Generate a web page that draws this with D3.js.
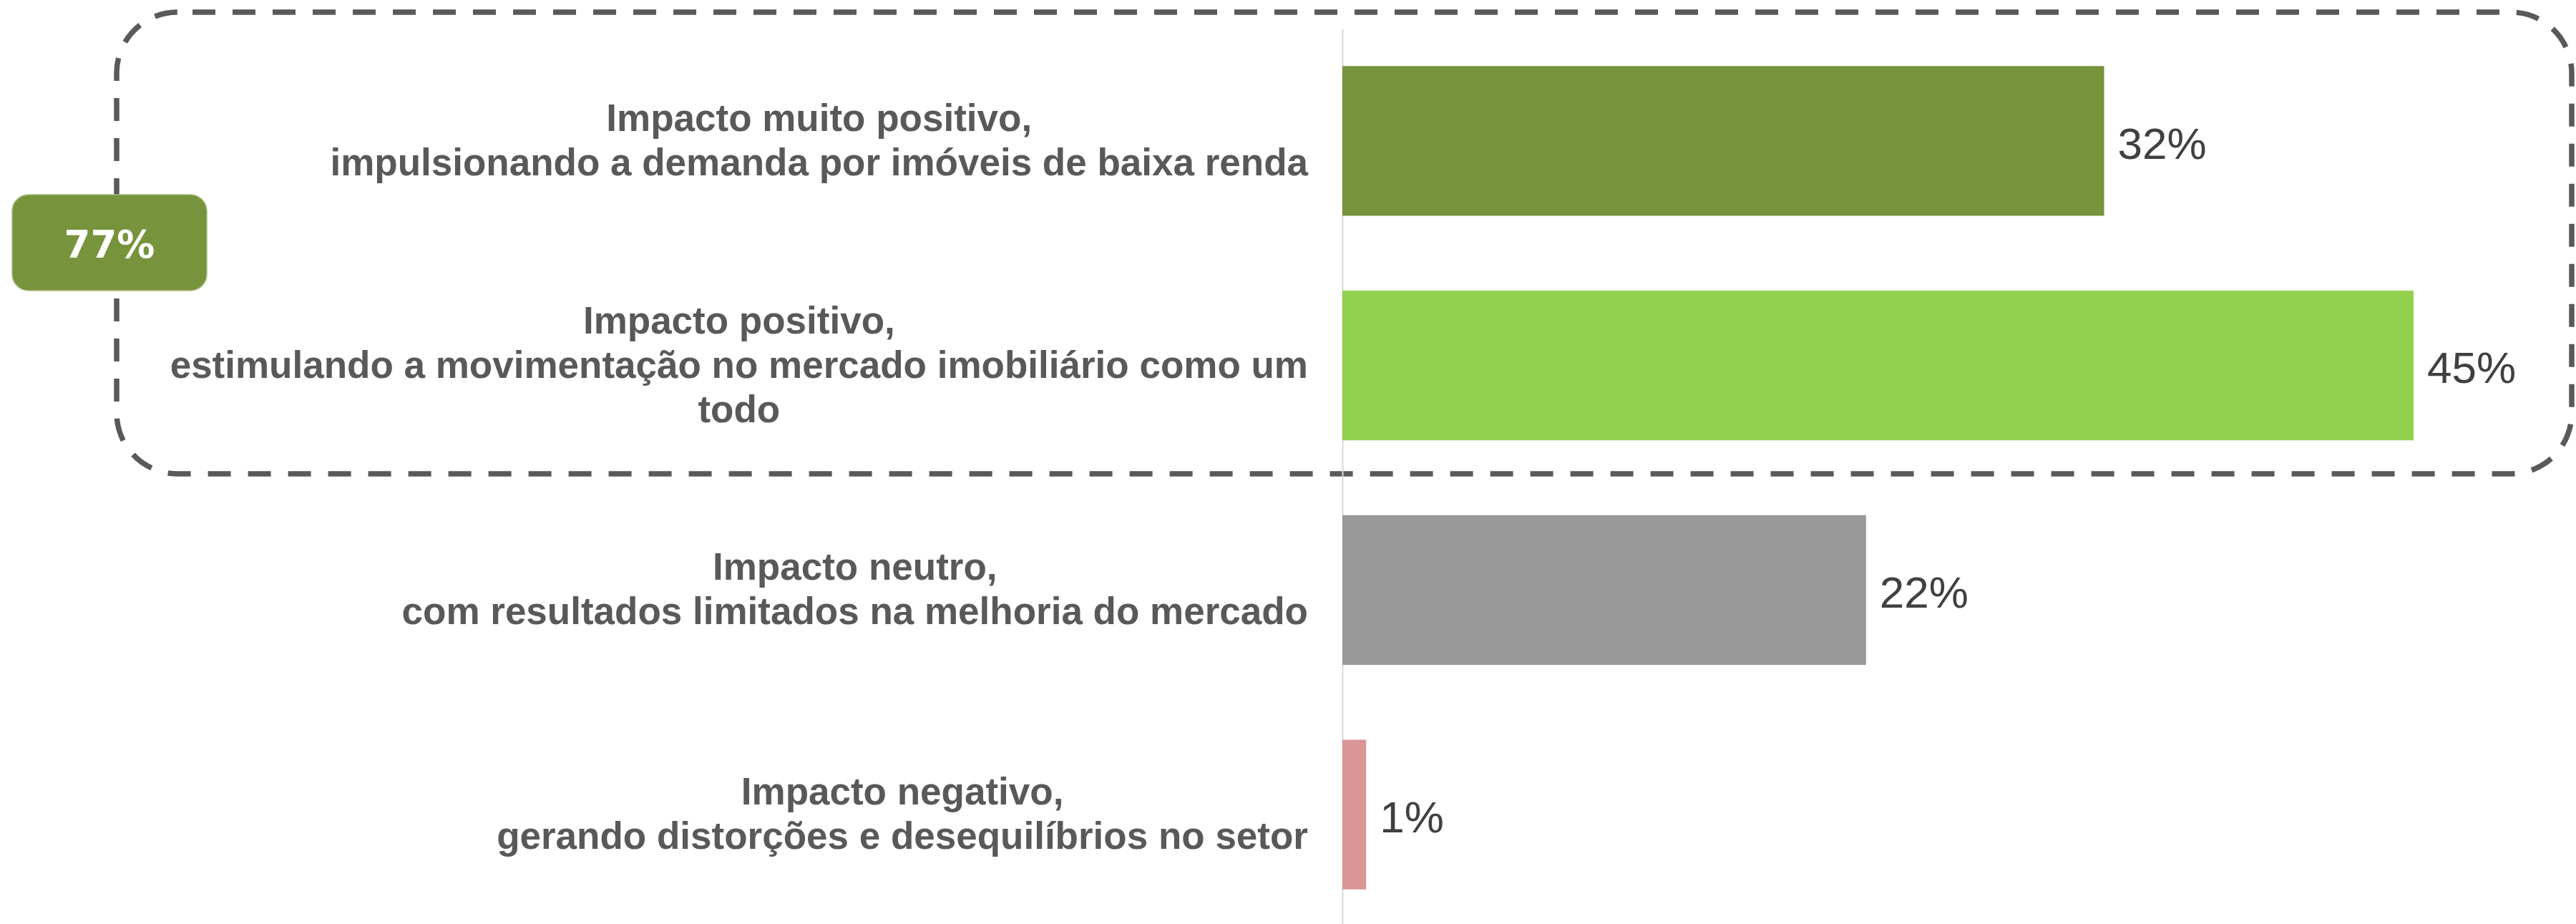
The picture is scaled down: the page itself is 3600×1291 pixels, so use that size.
<!DOCTYPE html>
<html>
<head>
<meta charset="utf-8">
<script src="https://cdn.jsdelivr.net/npm/d3@7"></script>
<style>
  html, body { margin: 0; padding: 0; background: #ffffff; }
  svg { display: block; }
</style>
</head>
<body>
<svg id="chart" width="3600" height="1291"></svg>
<script>
// ---- Data ----
const categories = ["muito_positivo", "positivo", "neutro", "negativo"];
const labelLines = [
  ["Impacto muito positivo,", "impulsionando a demanda por imóveis de baixa renda"],
  ["Impacto positivo,", "estimulando a movimentação no mercado imobiliário como um", "todo"],
  ["Impacto neutro,", "com resultados limitados na melhoria do mercado"],
  ["Impacto negativo,", "gerando distorções e desequilíbrios no setor"]
];
const values = [32, 45, 22, 1];
const barColors = ["#77933C", "#92D050", "#999999", "#D99694"];
const groupLabel = "77%";

// ---- Layout ----
const W = 3600, H = 1291;
const svg = d3.select("#chart");

const x = d3.scaleLinear().domain([0, 45]).range([1876, 3373]);
const y = d3.scaleBand().domain(categories).range([40, 1295])
  .paddingInner(1/3).paddingOuter(1/6);

// Dashed rounded group box
svg.append("rect")
  .attr("x", 163).attr("y", 17)
  .attr("width", 3594 - 163).attr("height", 662 - 17)
  .attr("rx", 85).attr("ry", 85)
  .attr("fill", "none")
  .attr("stroke", "#595959")
  .attr("stroke-width", 7.5)
  .attr("stroke-dasharray", "32 24")
  .attr("stroke-dashoffset", 35);

// Axis line (category axis, no ticks/labels)
const axisG = svg.append("g")
  .attr("transform", `translate(${x(0)},0)`)
  .call(d3.axisLeft(y).tickSize(0).tickFormat(""));
axisG.select(".domain").attr("stroke", "#d9d9d9").attr("stroke-width", 2);

// Bars
svg.append("g").selectAll("rect")
  .data(categories)
  .join("rect")
  .attr("x", x(0))
  .attr("y", d => y(d))
  .attr("width", (d, i) => x(values[i]) - x(0))
  .attr("height", y.bandwidth())
  .attr("fill", (d, i) => barColors[i]);

// Value labels
svg.append("g").selectAll("text")
  .data(categories)
  .join("text")
  .attr("x", (d, i) => x(values[i]) + 19)
  .attr("y", d => y(d) + y.bandwidth() / 2)
  .attr("dy", "0.4em")
  .attr("font-family", "'Liberation Sans', Arial, sans-serif")
  .attr("font-size", 62)
  .attr("fill", "#404040")
  .text((d, i) => values[i] + "%");

// Category labels (lines centered, block right-aligned)
const labelRight = 1828;
const lineH = 62;
const lblG = svg.append("g");
categories.forEach((c, i) => {
  const lines = labelLines[i];
  const cy = y(c) + y.bandwidth() / 2;
  const t = lblG.append("text")
    .attr("font-family", "'Liberation Sans', Arial, sans-serif")
    .attr("font-weight", "bold")
    .attr("font-size", 53)
    .attr("fill", "#595959")
    .attr("text-anchor", "middle");
  const first = cy - (lines.length - 1) / 2 * lineH + 17;
  const spans = lines.map((ln, k) =>
    t.append("tspan").attr("y", first + k * lineH).text(ln));
  const maxW = d3.max(spans, s => s.node().getComputedTextLength());
  spans.forEach(s => s.attr("x", labelRight - maxW / 2));
});

// Group badge
const badge = svg.append("g");
badge.append("rect")
  .attr("x", 17).attr("y", 272)
  .attr("width", 272).attr("height", 134)
  .attr("rx", 23).attr("ry", 23)
  .attr("fill", "#77933C")
  .attr("stroke", "#a5bc7e").attr("stroke-width", 1.5);
badge.append("text")
  .attr("x", 153).attr("y", 360)
  .attr("text-anchor", "middle")
  .attr("font-family", "'DejaVu Sans', Verdana, sans-serif")
  .attr("font-weight", "bold")
  .attr("font-size", 53)
  .attr("fill", "#ffffff")
  .text(groupLabel);
</script>
</body>
</html>
